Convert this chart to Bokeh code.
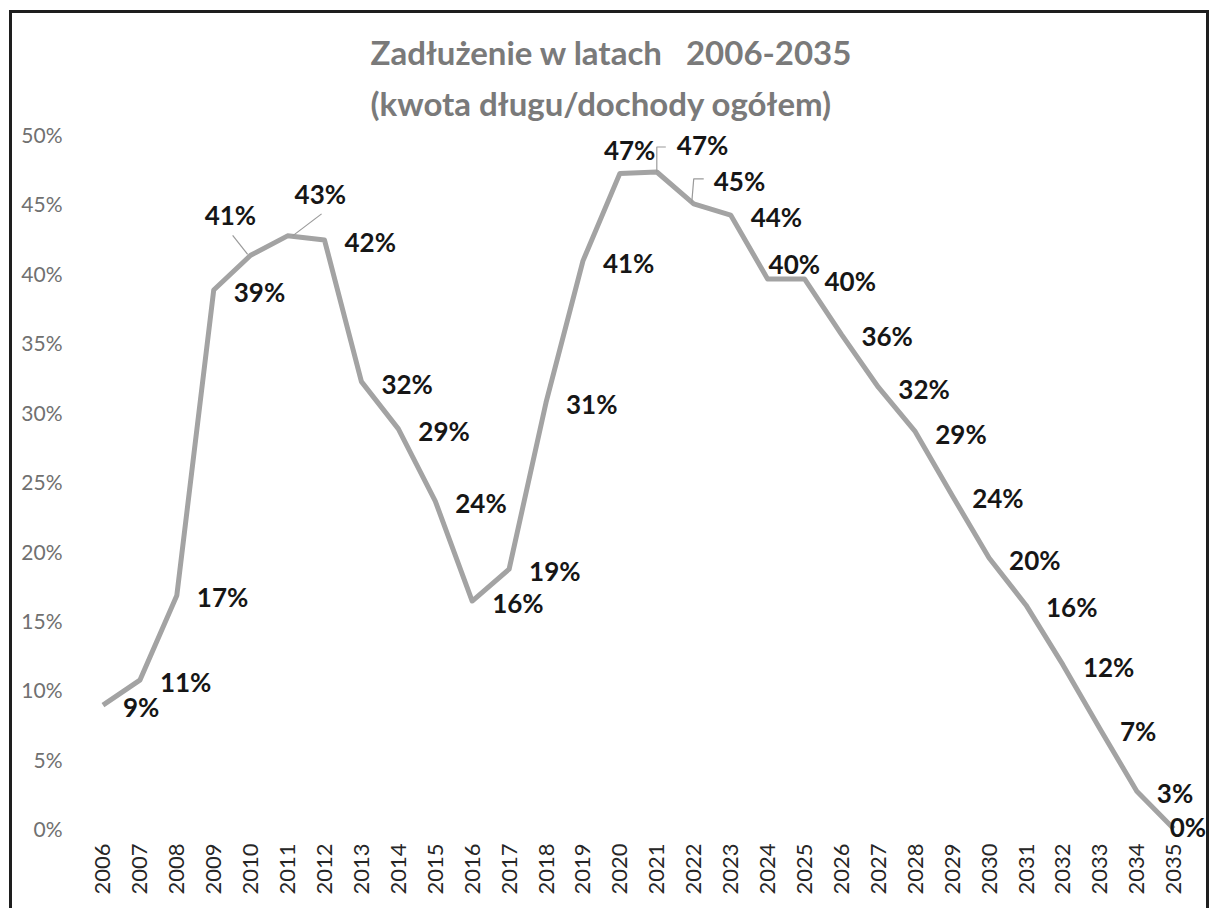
from bokeh.plotting import figure
from bokeh.models import Range1d, FixedTicker, NumeralTickFormatter, ColumnDataSource, Title
from bokeh.core.properties import value
from bokeh.embed import file_html
from bokeh.resources import INLINE

# ---- data ----
years = [str(y) for y in range(2006, 2036)]
debt_ratio = [0.089, 0.107, 0.168, 0.388, 0.413, 0.427, 0.424, 0.322, 0.288, 0.236,
              0.164, 0.187, 0.307, 0.409, 0.472, 0.473, 0.450, 0.442, 0.396, 0.396,
              0.356, 0.318, 0.286, 0.240, 0.195, 0.161, 0.118, 0.072, 0.027, 0.000]
y_ticks = [0.0, 0.05, 0.10, 0.15, 0.20, 0.25, 0.30, 0.35, 0.40, 0.45, 0.50]
title_1 = "Zadłużenie w latach\u00a0\u00a0\u00a02006-2035"
title_2 = "(kwota długu/dochody ogółem)"

# ---- label placement (screen px relative to point) ----
label_dx = [20] * len(years)
label_dy = [2] * len(years)
special = {"2010": (-46, -40), "2011": (7, -42), "2020": (-16, -23), "2021": (20, -27),
           "2022": (20, -23), "2024": (1, -15), "2035": (-4, -2)}
for k, (dx, dy) in special.items():
    i = years.index(k)
    label_dx[i], label_dy[i] = dx, dy

# leader lines in px relative to point
leaders = {"2010": [(-18, -20), (-3, -1)],
           "2011": [(34, -22), (5, 0)],
           "2021": [(0, 0), (0, -25), (9, -25)],
           "2022": [(-2, -1), (0, -25), (10, -25)]}

W, H = 1200, 898
ML, MR, MT, MB = 72, 0, 121, 55
X_END = len(years) - 0.5 + 0.55         # extra room on the right for the last label
Y_START = -0.02                         # extra room below 0 for the last label
frame_w = W - ML - MR
frame_h = H - MT - MB
px_x = frame_w / (X_END + 0.5)          # px per category
px_y = frame_h / (0.5 - Y_START)        # px per unit of y

p = figure(width=W, height=H, x_range=Range1d(-0.5, X_END), y_range=Range1d(Y_START, 0.5),
           output_backend="svg", toolbar_location=None,
           min_border_left=ML, min_border_right=MR, min_border_top=MT, min_border_bottom=MB)
p.styles = {"border-top": "3px solid #1e1e1e", "border-left": "3px solid #1e1e1e",
            "border-right": "3px solid #1e1e1e", "margin-top": "10px", "margin-left": "9px"}
p.outline_line_color = None
p.background_fill_color = "white"
p.border_fill_color = "white"
p.xgrid.visible = False
p.ygrid.visible = False

xs = list(range(len(years)))
p.line(xs, debt_ratio, line_color="#a3a3a3", line_width=5, line_join="round")

for k, pts in leaders.items():
    i = years.index(k)
    lx = [xs[i] + dx / px_x for dx, dy in pts]
    ly = [debt_ratio[i] - dy / px_y for dx, dy in pts]
    p.line(lx, ly, line_color="#9a9a9a", line_width=1.2)

src = ColumnDataSource(dict(x=xs, y=debt_ratio,
                            label=[f"{v * 100:.0f}%" for v in debt_ratio],
                            dx=label_dx, dy=label_dy))
p.text(x="x", y="y", text="label", x_offset="dx", y_offset="dy", source=src,
       text_font=value("Lato"), text_font_style="bold", text_font_size="26px",
       text_align="left", text_baseline="middle", text_color="#161616")

# axes
p.xaxis.ticker = FixedTicker(ticks=xs)
p.xaxis.major_label_overrides = {i: y for i, y in enumerate(years)}
p.xaxis.major_label_orientation = 3.14159265 / 2
p.xaxis.axis_line_color = None
p.xaxis.major_tick_line_color = None
p.xaxis.minor_tick_line_color = None
p.xaxis.major_tick_in = 0
p.xaxis.major_tick_out = 0
p.xaxis.major_label_standoff = -13
p.xaxis.major_label_text_font = "Lato"
p.xaxis.major_label_text_font_size = "22px"
p.xaxis.major_label_text_color = "#262626"

p.yaxis.ticker = FixedTicker(ticks=y_ticks)
p.yaxis.formatter = NumeralTickFormatter(format="0%")
p.yaxis.axis_line_color = None
p.yaxis.major_tick_line_color = None
p.yaxis.minor_tick_line_color = None
p.yaxis.major_tick_in = 0
p.yaxis.major_tick_out = 0
p.yaxis.major_label_standoff = 22
p.yaxis.major_label_text_font = "Lato"
p.yaxis.major_label_text_font_size = "21px"
p.yaxis.major_label_text_color = "#707070"

t2 = Title(text=title_2, align="left", offset=286, text_font="Lato", text_font_style="bold",
           text_font_size="33px", text_color="#7a7a7a", standoff=23)
t1 = Title(text=title_1, align="left", offset=286, text_font="Lato", text_font_style="bold",
           text_font_size="33px", text_color="#7a7a7a", standoff=-5)
p.add_layout(t2, "above")
p.add_layout(t1, "above")

open("out.html", "w").write(file_html(p, INLINE))
